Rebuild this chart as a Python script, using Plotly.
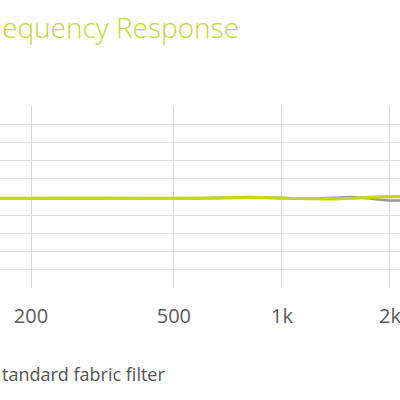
import plotly.graph_objects as go

# Frequencies (Hz) and response (dB)
freq_std = [160, 200, 300, 400, 500, 600, 700, 800, 900, 1000, 1200, 1400, 1600, 1800, 2000, 2200]
resp_std = [-0.7, -0.7, -0.65, -0.7, -0.7, -0.65, -0.45, -0.2, -0.3, -0.6, -0.95, -1.0, -0.7, -0.1, 0.2, 0.25]

freq_ref = [160, 200, 300, 400, 500, 600, 700, 800, 900, 1000, 1200, 1400, 1550, 1700, 1850, 2000, 2200]
resp_ref = [-0.7, -0.7, -0.65, -0.7, -0.7, -0.65, -0.45, -0.2, -0.3, -0.6, -0.8, -0.45, 0.0, -0.55, -1.35, -1.9, -1.9]

tick_vals = [100, 200, 500, 1000, 2000, 5000, 10000]
tick_text = ["100", "200", "500", "1k", "2k", "5k", "10k"]

title_text = "equency Response"
legend_text = "tandard fabric filter"

FONT = "Open Sans"
LINE = "#c9d416"
TITLE = "#c2d838"

fig = go.Figure()
fig.add_trace(go.Scatter(x=freq_ref, y=resp_ref, mode="lines", name="Without filter",
                         line=dict(color="#9a9a9a", width=2.5, shape="spline"), showlegend=False))
fig.add_trace(go.Scatter(x=freq_std, y=resp_std, mode="lines", name="With standard fabric filter",
                         line=dict(color=LINE, width=3.2, shape="spline"), showlegend=False))

fig.update_layout(
    width=400, height=400,
    margin=dict(l=0, r=0, t=106, b=112),
    paper_bgcolor="white", plot_bgcolor="white",
    font=dict(family=FONT, color="#555555"),
    xaxis=dict(type="log", range=[2.2146, 3.329], tickvals=tick_vals, ticktext=tick_text,
               showgrid=True, gridcolor="#d8d8d8", gridwidth=1, zeroline=False, showline=False,
               tickfont=dict(size=20, color="#5a5a5a", family=FONT), ticks="", ticklabelstandoff=14,
               ticklabeloverflow="allow"),
    yaxis=dict(range=[-50.2, 50.2], dtick=10, tick0=0, showgrid=True, gridcolor="#e0e0e0",
               gridwidth=1, zeroline=False, showticklabels=False, ticks=""),
    annotations=[
        dict(text=title_text, x=0, y=400 - 27, xref="paper", yref="paper", showarrow=False,
             xanchor="left", yanchor="middle",
             font=dict(family=FONT, size=28, color=TITLE, weight=300)),
        dict(text=legend_text, x=0, y=0, xref="paper", yref="paper", showarrow=False,
             xanchor="left", yanchor="middle",
             font=dict(family=FONT, size=18, color="#555555")),
    ],
)

# Convert annotation y (pixels from bottom of page) to paper coordinates
plot_h = 400 - 106 - 112
for ann, ypix in zip(fig.layout.annotations, [400 - 27, 400 - 374]):
    ann.y = (ypix - 112) / plot_h

fig.write_html("out.html")
